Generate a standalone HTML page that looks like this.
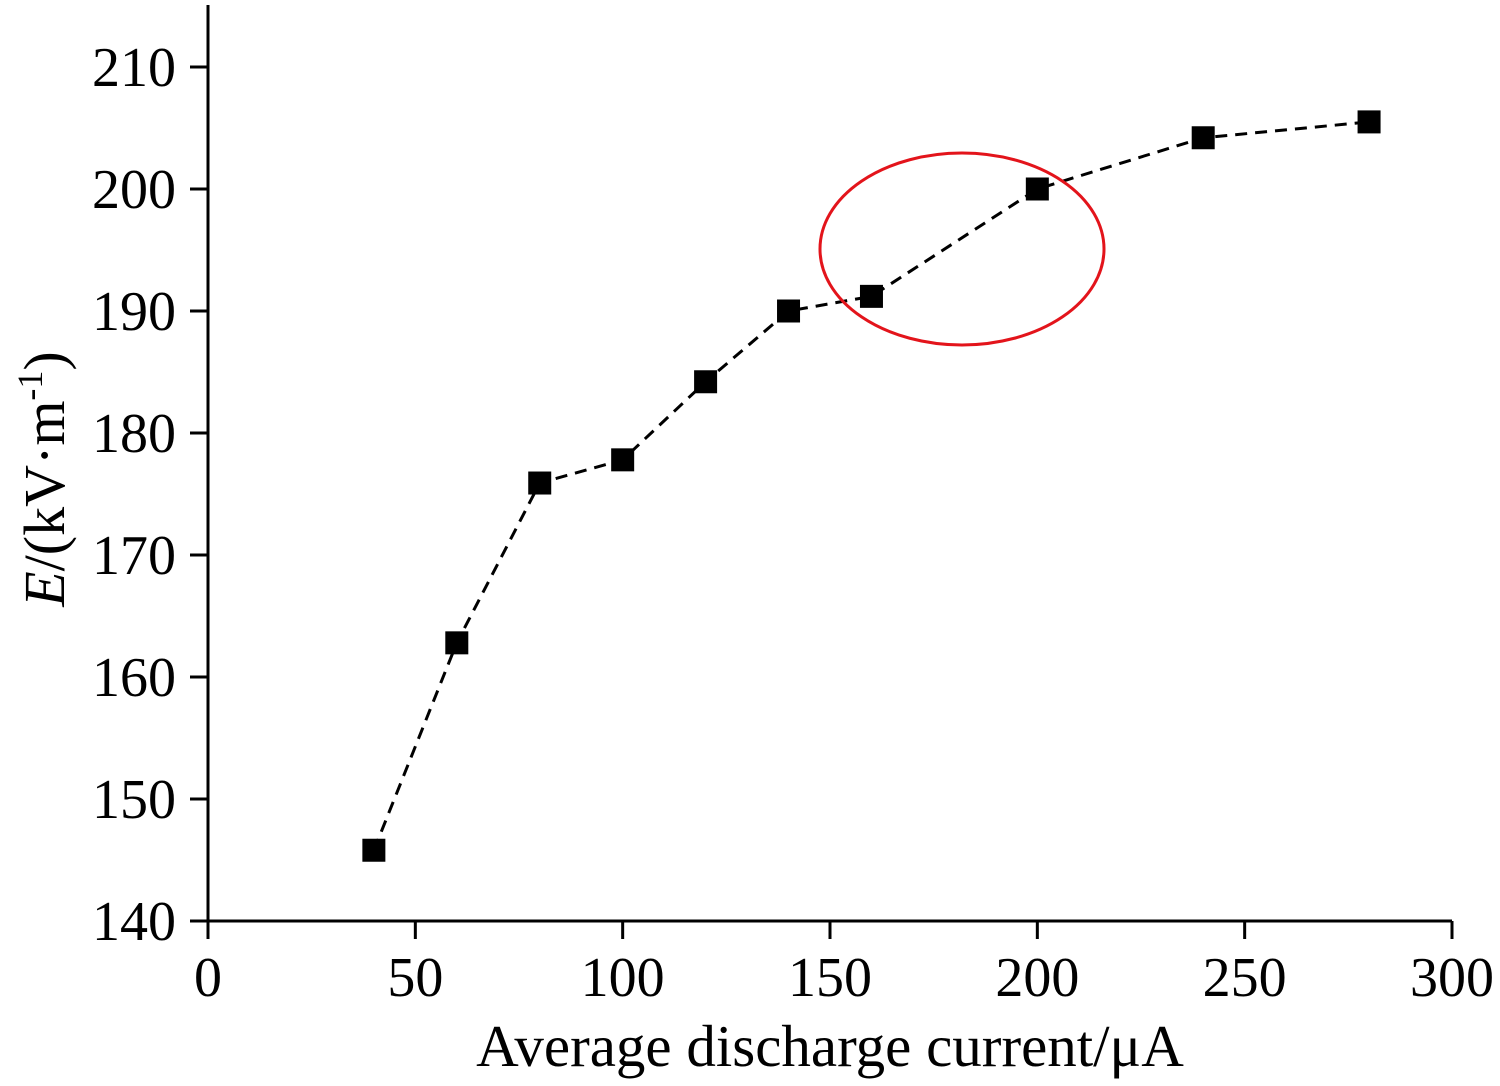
<!DOCTYPE html>
<html><head><meta charset="utf-8"><style>html,body{margin:0;padding:0;background:#fff}svg{display:block}</style></head>
<body>
<svg width="1500" height="1086" viewBox="0 0 1500 1086" xmlns="http://www.w3.org/2000/svg" font-family="Liberation Serif, serif">
<g id="axes"></g>
<g id="marks"></g>
<ellipse cx="962" cy="249" rx="142" ry="96" fill="none" stroke="#e3141b" stroke-width="3"/>
<text x="830" y="1066" font-size="59" text-anchor="middle">Average discharge current/μA</text>
<text transform="translate(64,479) rotate(-90)" font-size="58" text-anchor="middle"><tspan font-style="italic">E</tspan>/(kV·m<tspan font-size="36" dy="-22">-1</tspan><tspan dy="22">)</tspan></text>
</svg>
<script>
const xValues=[40,60,80,100,120,140,160,200,240,280];
const yValues=[145.8,162.8,175.9,177.8,184.2,190.0,191.2,200.0,204.2,205.5];
const xTicks=[0,50,100,150,200,250,300];
const yTicks=[140,150,160,170,180,190,200,210];
const NS="http://www.w3.org/2000/svg";
const X0=208,X1=1452,Y0=921,Y1=67;
function sx(v){return X0+(v-0)/(300-0)*(X1-X0);}
function sy(v){return Y0-(v-140)/(210-140)*(Y0-Y1);}
function mk(t,a,p){const e=document.createElementNS(NS,t);for(const k in a)e.setAttribute(k,a[k]);(p||document.getElementById('axes')).appendChild(e);return e;}
let l=mk('line',{x1:X0,y1:5,x2:X0,y2:Y0+18,stroke:'#000','stroke-width':3});


l=mk('line',{x1:X0-18,y1:Y0,x2:X1,y2:Y0,stroke:'#000','stroke-width':3});


xTicks.forEach(v=>{
  const t=mk('line',{x1:sx(v),y1:Y0,x2:sx(v),y2:Y0+18,stroke:'#000','stroke-width':3});
  
  
  const s=mk('text',{x:sx(v),y:996,'font-size':56,'text-anchor':'middle'});
  s.textContent=v;
  
  
});
yTicks.forEach(v=>{
  const t=mk('line',{x1:X0-18,y1:sy(v),x2:X0,y2:sy(v),stroke:'#000','stroke-width':3});
  
  
  const s=mk('text',{x:176,y:sy(v)+19,'font-size':56,'text-anchor':'end'});
  s.textContent=v;
  
  
});
const mg=document.getElementById('marks');
const pts=xValues.map((x,i)=>sx(x)+','+sy(yValues[i])).join(' ');
const pl=mk('polyline',{points:pts,fill:'none',stroke:'#000','stroke-width':3,'stroke-dasharray':'12,8'},mg);


xValues.forEach((x,i)=>{
  const r=mk('rect',{x:sx(x)-11.5,y:sy(yValues[i])-11.5,width:23,height:23,fill:'#000'},mg);
  
  
});
</script>
</body></html>
